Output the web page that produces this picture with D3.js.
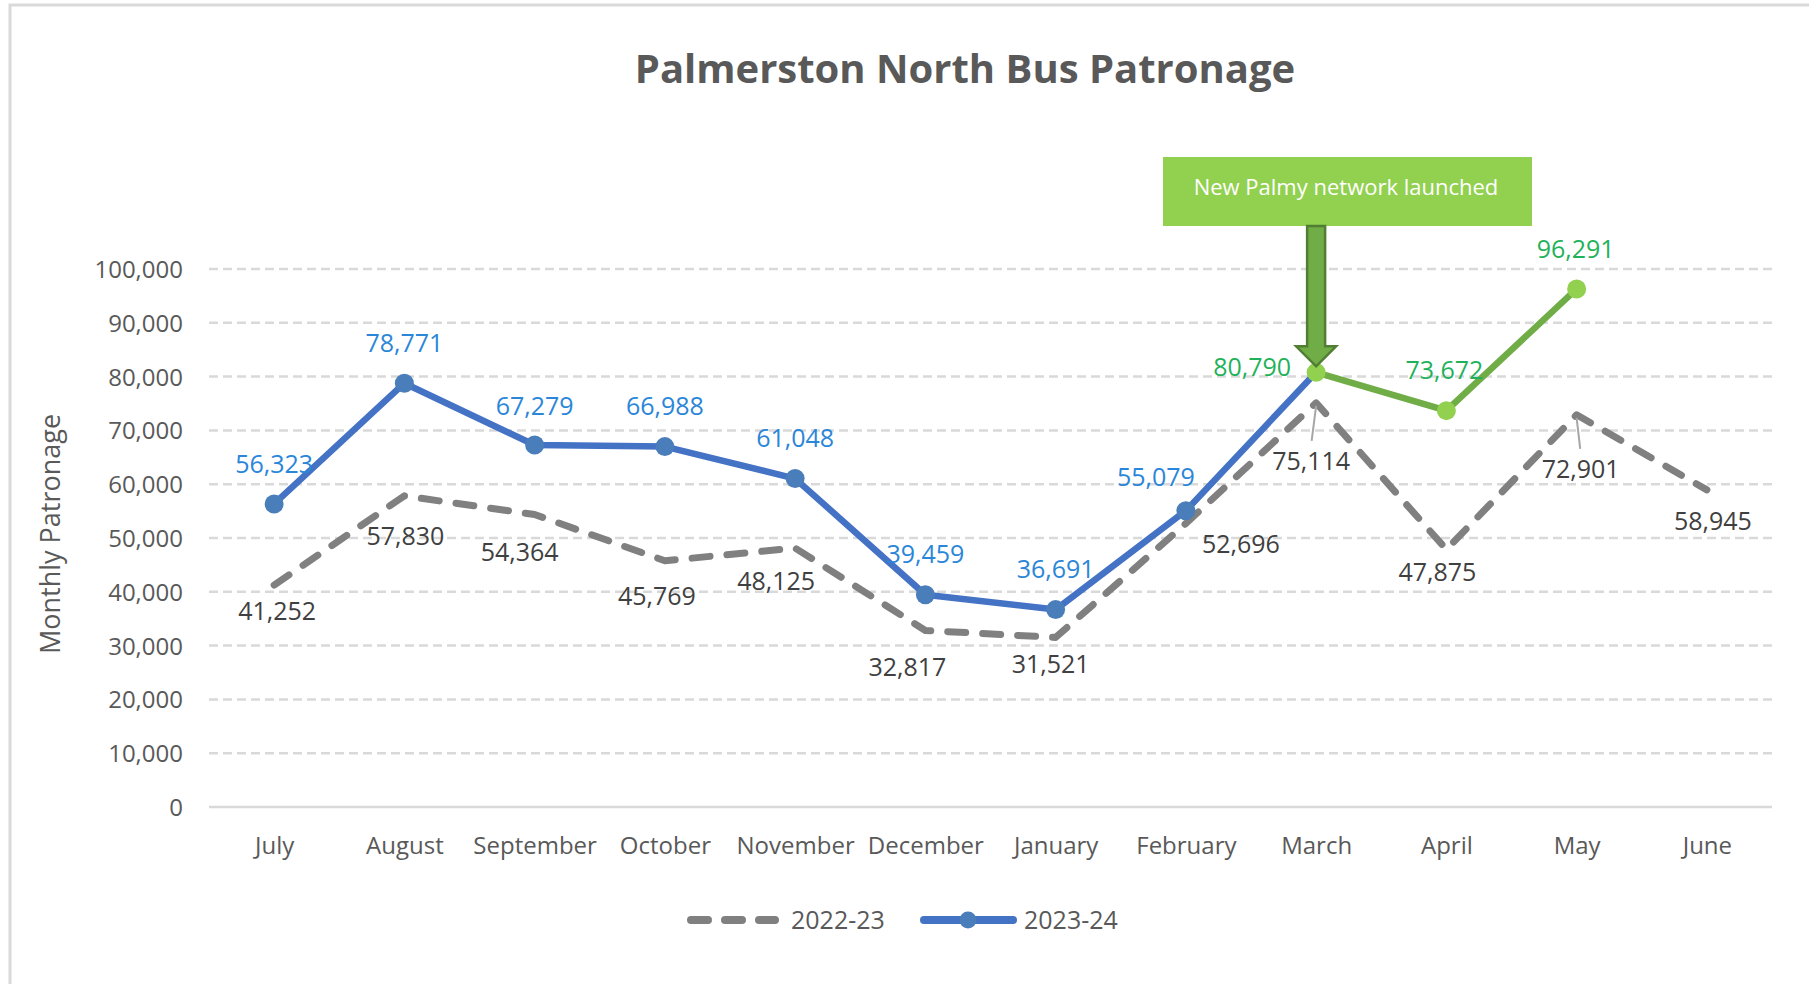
<!DOCTYPE html>
<html>
<head>
<meta charset="utf-8">
<script src="https://cdn.jsdelivr.net/npm/d3@7"></script>
<style>
  body { margin: 0; background: #fff; }
  svg { display: block; font-family: "Open Sans", sans-serif; }
  .axis-label { fill: #595959; font-size: 24px; font-family: "Open Sans", sans-serif; }
  .grey-label { fill: #404040; font-size: 25px; }
  .blue-label { fill: #2a86d8; font-size: 25px; }
  .green-label { fill: #1fb25a; font-size: 25px; }
</style>
</head>
<body>
<div id="chart"></div>
<script>
// data
const months = ["July", "August", "September", "October", "November", "December",
  "January", "February", "March", "April", "May", "June"];
const patronage2223 = [41252, 57830, 54364, 45769, 48125, 32817, 31521, 52696, 75114, 47875, 72901, 58945];
const patronage2324 = [56323, 78771, 67279, 66988, 61048, 39459, 36691, 55079, 80790];
const newNetworkMonths = ["March", "April", "May"];
const newNetworkValues = [80790, 73672, 96291];
const yTicks = [0, 10000, 20000, 30000, 40000, 50000, 60000, 70000, 80000, 90000, 100000];

// label nudges (px) - labels were dragged around by hand in the original
const greyNudge = [[3, 26], [1, 40], [-15, 38], [-8, 35], [-19, 33], [-18, 37], [-5, 27], [55, 21], [-5, 58], [-9, 23], [4, 54], [6, 31]];
const blueNudge = [[0, -40], [0, -40], [0, -39], [0, -40], [0, -40], [0, -40], [0, -40], [-30, -33], [-64, -5]];
const greenNudge = [[-64, -5], [-2, -40], [-1, -40]];

const width = 1809;
const height = 984;

const svg = d3.select("#chart")
  .append("svg")
  .attr("width", width)
  .attr("height", height);

// outer chart frame (runs off the right/bottom edge like the screenshot)
svg.append("rect")
  .attr("x", 10)
  .attr("y", 5)
  .attr("width", 1830)
  .attr("height", 1010)
  .attr("fill", "none")
  .attr("stroke", "#d9d9d9")
  .attr("stroke-width", 3);

const xScale = d3.scalePoint()
  .domain(months)
  .range([209, 1772])
  .padding(0.5);

const yScale = d3.scaleLinear()
  .domain([0, 100000])
  .range([807, 269]);

const fmt = d3.format(",");

// grid
svg.append("g")
  .selectAll("line")
  .data(yTicks)
  .join("line")
  .attr("x1", 209)
  .attr("x2", 1772)
  .attr("y1", d => yScale(d))
  .attr("y2", d => yScale(d))
  .attr("stroke", "#d9d9d9")
  .attr("stroke-width", 2.5)
  .attr("stroke-dasharray", d => d === 0 ? null : "9 5");

// y axis labels
const leftAxis = d3.axisLeft(yScale)
  .tickValues(yTicks)
  .tickFormat(fmt)
  .tickSize(0)
  .tickPadding(0);

svg.append("g")
  .attr("transform", "translate(183, 0)")
  .call(leftAxis)
  .attr("font-family", null)
  .attr("font-size", null)
  .call(g => g.select(".domain").remove())
  .call(g => g.selectAll("text")
    .attr("class", "axis-label")
    .attr("fill", null)
    .attr("dy", "0.35em"));

// x axis labels
const bottomAxis = d3.axisBottom(xScale)
  .tickSize(0)
  .tickPadding(0);

svg.append("g")
  .attr("transform", "translate(0, 837)")
  .call(bottomAxis)
  .attr("font-family", null)
  .attr("font-size", null)
  .call(g => g.select(".domain").remove())
  .call(g => g.selectAll("text")
    .attr("class", "axis-label")
    .attr("fill", null)
    .attr("dy", "0.71em"));

// axis title
svg.append("text")
  .attr("class", "axis-label")
  .attr("transform", "translate(60, 534) rotate(-90)")
  .attr("text-anchor", "middle")
  .style("font-size", "27px")
  .text("Monthly Patronage");

// chart title
svg.append("text")
  .attr("x", 965)
  .attr("y", 83)
  .attr("text-anchor", "middle")
  .attr("font-size", 40)
  .attr("font-weight", "bold")
  .attr("fill", "#595959")
  .text("Palmerston North Bus Patronage");

const line = d3.line()
  .x(d => xScale(d.month))
  .y(d => yScale(d.value));

const data2223 = months.map((m, i) => ({ month: m, value: patronage2223[i] }));
const data2324 = patronage2324.map((v, i) => ({ month: months[i], value: v }));
const dataNew = newNetworkValues.map((v, i) => ({ month: newNetworkMonths[i], value: v }));

// 2022-23 dashed
svg.append("path")
  .attr("d", line(data2223))
  .attr("fill", "none")
  .attr("stroke", "#808080")
  .attr("stroke-width", 7)
  .attr("stroke-linecap", "round")
  .attr("stroke-linejoin", "round")
  .attr("stroke-dasharray", "18 17");

// 2023-24 blue
svg.append("path")
  .attr("d", line(data2324))
  .attr("fill", "none")
  .attr("stroke", "#4472c4")
  .attr("stroke-width", 6.5)
  .attr("stroke-linejoin", "round");

svg.append("g")
  .selectAll("circle")
  .data(data2324.slice(0, -1))
  .join("circle")
  .attr("cx", d => xScale(d.month))
  .attr("cy", d => yScale(d.value))
  .attr("r", 9.5)
  .attr("fill", "#4a7ebb");

// new network green
svg.append("path")
  .attr("d", line(dataNew))
  .attr("fill", "none")
  .attr("stroke", "#70ad47")
  .attr("stroke-width", 6.5)
  .attr("stroke-linejoin", "round");

svg.append("g")
  .selectAll("circle")
  .data(dataNew)
  .join("circle")
  .attr("cx", d => xScale(d.month))
  .attr("cy", d => yScale(d.value))
  .attr("r", 9.5)
  .attr("fill", "#92d050");

// leader lines for the two labels pulled away from their points
[8, 10].forEach(i => {
  const x = xScale(months[i]);
  const y = yScale(patronage2223[i]);
  svg.append("line")
    .attr("x1", x + greyNudge[i][0] * 0.9)
    .attr("y1", y + greyNudge[i][1] - 20)
    .attr("x2", x)
    .attr("y2", y + 3)
    .attr("stroke", "#a6a6a6")
    .attr("stroke-width", 2);
});

// data labels
svg.append("g")
  .selectAll("text")
  .data(data2223)
  .join("text")
  .attr("class", "grey-label")
  .attr("text-anchor", "middle")
  .attr("x", (d, i) => xScale(d.month) + greyNudge[i][0])
  .attr("y", (d, i) => yScale(d.value) + greyNudge[i][1])
  .attr("dy", "0.35em")
  .text(d => fmt(d.value));

svg.append("g")
  .selectAll("text")
  .data(data2324.slice(0, -1))
  .join("text")
  .attr("class", "blue-label")
  .attr("text-anchor", "middle")
  .attr("x", (d, i) => xScale(d.month) + blueNudge[i][0])
  .attr("y", (d, i) => yScale(d.value) + blueNudge[i][1])
  .attr("dy", "0.35em")
  .text(d => fmt(d.value));

svg.append("g")
  .selectAll("text")
  .data(dataNew)
  .join("text")
  .attr("class", "green-label")
  .attr("text-anchor", "middle")
  .attr("x", (d, i) => xScale(d.month) + greenNudge[i][0])
  .attr("y", (d, i) => yScale(d.value) + greenNudge[i][1])
  .attr("dy", "0.35em")
  .text(d => fmt(d.value));

// annotation box + arrow
const launchX = xScale("March");
const launchY = yScale(newNetworkValues[0]);

svg.append("rect")
  .attr("x", 1163)
  .attr("y", 157)
  .attr("width", 369)
  .attr("height", 69)
  .attr("fill", "#92d050");

svg.append("text")
  .attr("x", 1346)
  .attr("y", 195)
  .attr("text-anchor", "middle")
  .attr("font-size", 22)
  .attr("fill", "#fff")
  .text("New Palmy network launched");

const arrowTop = 226;
const headY = launchY - 26;
const tipY = launchY - 6;
svg.append("path")
  .attr("d", `M${launchX - 9},${arrowTop} L${launchX + 9},${arrowTop} L${launchX + 9},${headY}
    L${launchX + 20},${headY} L${launchX},${tipY} L${launchX - 20},${headY}
    L${launchX - 9},${headY} Z`)
  .attr("fill", "#70ad47")
  .attr("stroke", "#507e32")
  .attr("stroke-width", 2.5);

// legend
const legendY = 920;
const legend = svg.append("g");

legend.append("line")
  .attr("x1", 691).attr("x2", 775)
  .attr("y1", legendY).attr("y2", legendY)
  .attr("stroke", "#808080")
  .attr("stroke-width", 8)
  .attr("stroke-linecap", "round")
  .attr("stroke-dasharray", "17 17");

legend.append("text")
  .attr("class", "axis-label")
  .attr("x", 791)
  .attr("y", legendY)
  .attr("dy", "0.35em")
  .style("font-size", "25px")
  .text("2022-23");

legend.append("line")
  .attr("x1", 924).attr("x2", 1013)
  .attr("y1", legendY).attr("y2", legendY)
  .attr("stroke", "#4472c4")
  .attr("stroke-width", 8)
  .attr("stroke-linecap", "round");

legend.append("circle")
  .attr("cx", 968)
  .attr("cy", legendY)
  .attr("r", 8.5)
  .attr("fill", "#4a7ebb");

legend.append("text")
  .attr("class", "axis-label")
  .attr("x", 1024)
  .attr("y", legendY)
  .attr("dy", "0.35em")
  .style("font-size", "25px")
  .text("2023-24");
</script>
</body>
</html>
